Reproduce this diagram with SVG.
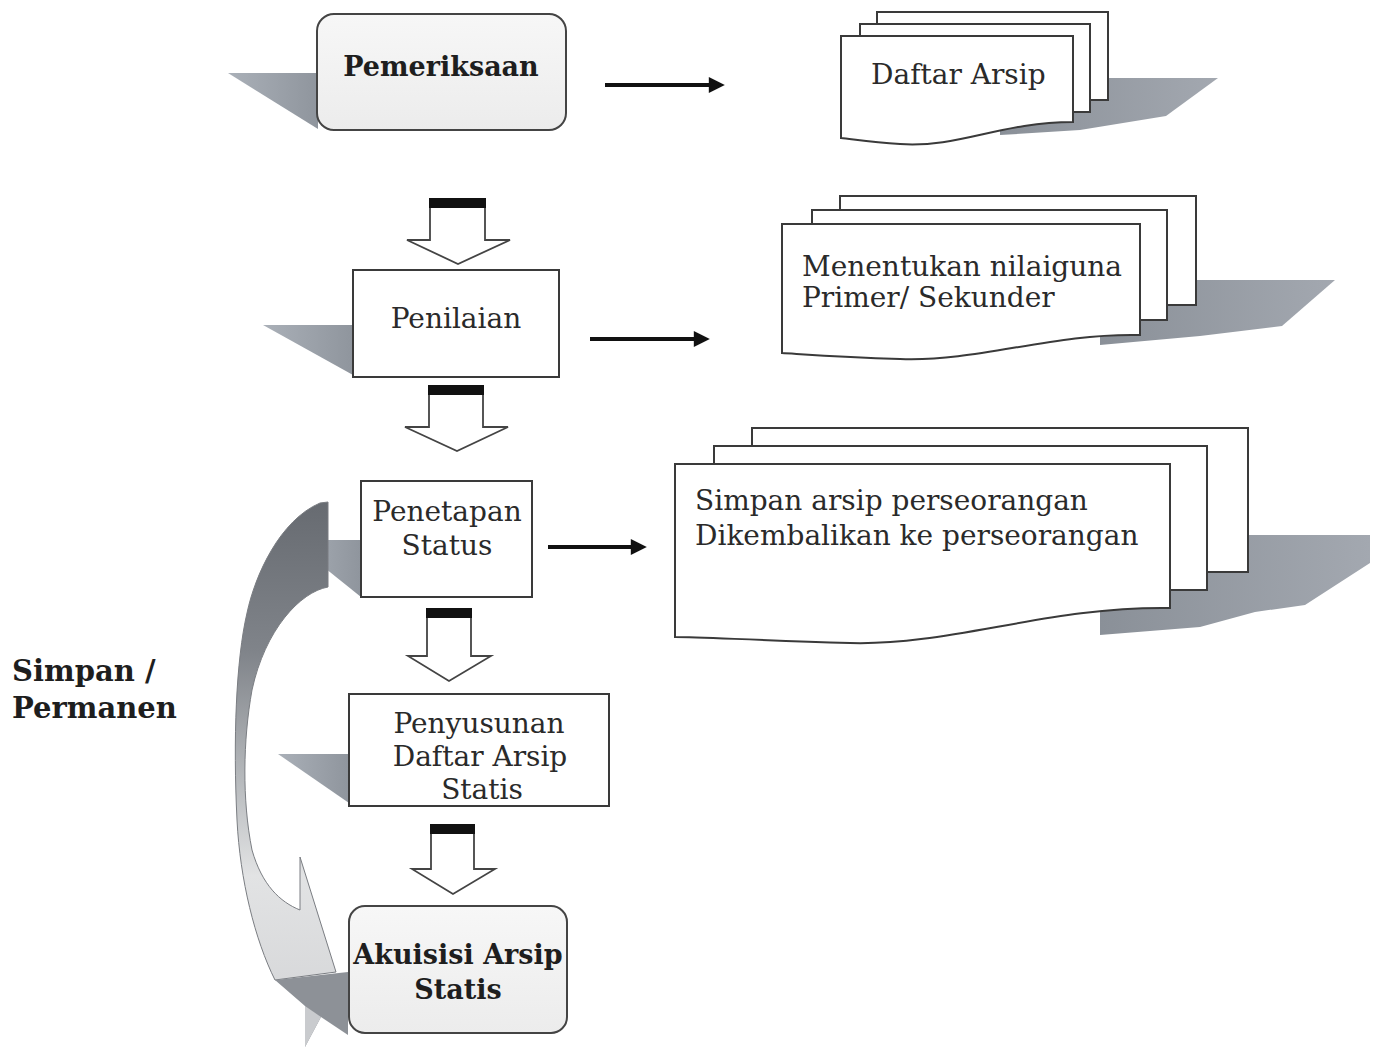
<svg xmlns="http://www.w3.org/2000/svg" width="1377" height="1050" viewBox="0 0 1377 1050">
<style>
.page{fill:#fff;stroke:#3a3a3a;stroke-width:2}
.box{fill:#fff;stroke:#3a3a3a;stroke-width:2}
.rbox{fill:url(#boxg);stroke:#444;stroke-width:2}
.sh{fill:url(#shg)}
.t{font-family:"DejaVu Serif","Liberation Serif",serif;font-size:28px;fill:#2a2a2a}
.b{font-family:"DejaVu Serif","Liberation Serif",serif;font-size:27px;font-weight:bold;fill:#1e1e1e}
.lb{font-size:29px}
.c{text-anchor:middle}
.conn{stroke:#111;stroke-width:4;fill:none;marker-end:url(#ah)}
.darr{fill:#fff;stroke:#444;stroke-width:1.8;stroke-linejoin:miter}
.bar{fill:#111}
</style>
<defs>
<marker id="ah" viewBox="0 0 10 10" refX="2" refY="5" markerWidth="4.2" markerHeight="4" orient="auto" markerUnits="strokeWidth">
<path d="M0,0 L10,5 L0,10 Z" fill="#111"/>
</marker>
<linearGradient id="boxg" x1="0" y1="0" x2="0" y2="1">
<stop offset="0" stop-color="#f7f7f7"/>
<stop offset="1" stop-color="#ececec"/>
</linearGradient>
<linearGradient id="shg" x1="0" y1="0" x2="1" y2="0">
<stop offset="0" stop-color="#aab0b8"/>
<stop offset="1" stop-color="#8f959d"/>
</linearGradient>
<linearGradient id="shr" x1="0" y1="0" x2="1" y2="0">
<stop offset="0" stop-color="#8a9098"/>
<stop offset="1" stop-color="#a3a8b0"/>
</linearGradient>
<linearGradient id="band" gradientUnits="userSpaceOnUse" x1="0" y1="503" x2="0" y2="1000">
<stop offset="0" stop-color="#676b71"/>
<stop offset="0.3" stop-color="#80848a"/>
<stop offset="0.55" stop-color="#b5b8bb"/>
<stop offset="0.75" stop-color="#e2e3e4"/>
<stop offset="1" stop-color="#d6d7d9"/>
</linearGradient>
</defs>

<g id="shadows">
<polygon class="sh" points="228,73 318,73 318,129"/>
<polygon class="sh" points="263,325 353,325 353,375"/>
<polygon class="sh" points="290,540 361,540 361,597"/>
<polygon class="sh" points="278,754 349,754 349,803"/>
<polygon fill="url(#shr)" points="1000,78 1218,78 1166,116 1080,130 1000,135"/>
<polygon fill="url(#shr)" points="1100,280 1335,280 1282,326 1200,336 1100,345"/>
<polygon fill="url(#shr)" points="1100,535 1370,535 1370,563 1305,605 1255,612 1200,627 1100,635"/>
</g>

<g id="curved-arrow">
<path d="M320,503 L328,502 L328,587 C300,592 265,630 252,690 C243,740 242,800 252,850 C262,885 280,902 300,910 L300,857 L336,972 L275,980 C255,940 240,880 237,820 C233,740 236,660 247,613 C255,575 280,520 320,503 Z" fill="url(#band)" stroke="#7a7d82" stroke-width="1"/>
<polygon points="275,980 348,972 348,1035 321,1017 305,1047 305,1006" fill="#8d9197"/>
<polygon points="305,1006 321,1017 305,1047" fill="#c9cbce"/>
</g>

<g id="connectors">
<line class="conn" x1="605" y1="85" x2="712" y2="85"/>
<line class="conn" x1="590" y1="339" x2="697" y2="339"/>
<line class="conn" x1="548" y1="547" x2="634" y2="547"/>
<g id="down1"><polygon class="darr" points="430,203 485,203 485,240 510,240 458,264 407,240 430,240"/><rect class="bar" x="429" y="198" width="57" height="10"/></g>
<g id="down2"><polygon class="darr" points="429,390 483,390 483,427 508,427 457,451 405,427 429,427"/><rect class="bar" x="428" y="385" width="56" height="10"/></g>
<g id="down3"><polygon class="darr" points="427,613 471,613 471,656 491,656 449,681 408,656 427,656"/><rect class="bar" x="426" y="608" width="46" height="10"/></g>
<g id="down4"><polygon class="darr" points="431,829 474,829 474,869 495,869 453,894 412,869 431,869"/><rect class="bar" x="430" y="824" width="45" height="10"/></g>
</g>

<g id="pemeriksaan">
<rect class="rbox" x="317" y="14" width="249" height="116" rx="17"/>
<text class="b c" x="441" y="76">Pemeriksaan</text>
</g>

<g id="daftar-arsip">
<rect class="page" x="877" y="12" width="231" height="88"/>
<rect class="page" x="860" y="24" width="230" height="88"/>
<path class="page" d="M841,36 H1073 V122 C1000,122 960,148 900,144 C870,142 852,139 841,138 Z"/>
<text class="t" x="871" y="84">Daftar Arsip</text>
</g>

<g id="penilaian">
<rect class="box" x="353" y="270" width="206" height="107"/>
<text class="t c" x="456" y="328">Penilaian</text>
</g>

<g id="menentukan">
<rect class="page" x="840" y="196" width="356" height="109"/>
<rect class="page" x="812" y="210" width="355" height="110"/>
<path class="page" d="M782,224 H1140 V335 C1050,333 980,362 900,359 C840,357 800,354 782,353 Z"/>
<text class="t" x="802" y="276">Menentukan nilaiguna</text>
<text class="t" x="802" y="307">Primer/ Sekunder</text>
</g>

<g id="penetapan">
<rect class="box" x="361" y="481" width="171" height="116"/>
<text class="t c" x="447" y="521">Penetapan</text>
<text class="t c" x="447" y="555">Status</text>
</g>

<g id="simpan-arsip">
<rect class="page" x="752" y="428" width="496" height="144"/>
<rect class="page" x="714" y="446" width="493" height="144"/>
<path class="page" d="M675,464 H1170 V608 C1050,606 950,646 850,643 C750,640 700,637 675,637 Z"/>
<text class="t" x="695" y="510">Simpan arsip perseorangan</text>
<text class="t" x="695" y="545">Dikembalikan ke perseorangan</text>
</g>

<g id="penyusunan">
<rect class="box" x="349" y="694" width="260" height="112"/>
<text class="t c" x="479" y="733">Penyusunan</text>
<text class="t c" x="480" y="766">Daftar Arsip</text>
<text class="t c" x="482" y="799">Statis</text>
</g>

<g id="akuisisi">
<rect class="rbox" x="349" y="906" width="218" height="127" rx="16"/>
<text class="b c" x="458" y="964">Akuisisi Arsip</text>
<text class="b c" x="458" y="999">Statis</text>
</g>

<g id="label-simpan">
<text class="b lb" x="12" y="681">Simpan /</text>
<text class="b lb" x="12" y="718">Permanen</text>
</g>
</svg>
